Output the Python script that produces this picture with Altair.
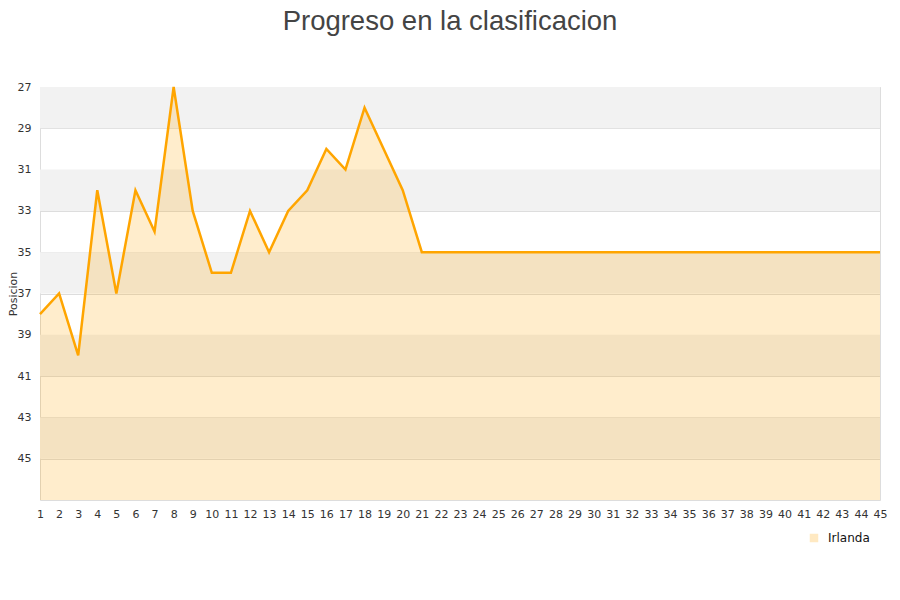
import altair as alt
import pandas as pd

jornadas = list(range(1, 46))
posiciones = [38, 37, 40, 32, 37, 32, 34, 27, 33, 36, 36, 33, 35, 33, 32, 30, 31, 28, 30, 32, 35] + [35] * 24
equipo = "Irlanda"
band_start = [27, 31, 35, 39, 43]
band_end = [29, 33, 37, 41, 45]
y_ticks = [27, 29, 31, 33, 35, 37, 39, 41, 43, 45]

df = pd.DataFrame({"jornada": jornadas, "posicion": posiciones, "equipo": [equipo] * len(jornadas)})
bands = pd.DataFrame({"y0": band_start, "y1": band_end})

W, H = 840, 413
xscale = alt.Scale(domain=[1, 45], nice=False, zero=False)
yscale = alt.Scale(domain=[27, 47], reverse=True, nice=False, zero=False)

xaxis = alt.Axis(values=jornadas, title=None, grid=False, ticks=False, domain=False,
                 labelPadding=8, labelFontSize=11, labelColor="#333", labelFont="DejaVu Sans",
                 labelFlush=False, labelOverlap=False)
yaxis = alt.Axis(values=y_ticks, title="Posicion", grid=True, gridColor="#dddddd",
                 ticks=False, domain=False, labelPadding=9, labelFontSize=11,
                 labelColor="#333", labelFont="DejaVu Sans", titleFont="DejaVu Sans",
                 titleFontSize=11, titleFontWeight="normal", titleColor="#333",
                 titleX=-22, titleY=H / 2, titleAngle=270, titleBaseline="bottom",
                 titleAlign="center", labelFlush=False, labelOverlap=False)

band_layer = alt.Chart(bands).mark_rect(color="#f2f2f2").encode(
    x=alt.value(0), x2=alt.value(W),
    y=alt.Y("y0:Q", scale=yscale, axis=yaxis), y2="y1:Q",
)

area = alt.Chart(df).mark_area(opacity=0.2, interpolate="linear", color="#ffa500").encode(
    x=alt.X("jornada:Q", scale=xscale, axis=xaxis),
    y=alt.Y("posicion:Q", scale=yscale, axis=yaxis),
    y2=alt.datum(47),
)

line = alt.Chart(df).mark_line(color="#ffa500", strokeWidth=2.5).encode(
    x=alt.X("jornada:Q", scale=xscale, axis=xaxis),
    y=alt.Y("posicion:Q", scale=yscale, axis=yaxis),
)

legend_layer = alt.Chart(df.head(1)).mark_point(
    size=0, filled=False, fill="#ffe9c2", stroke="#a08c6a", strokeWidth=1, opacity=1
).encode(
    x=alt.X("jornada:Q", scale=xscale, axis=xaxis),
    y=alt.Y("posicion:Q", scale=yscale, axis=yaxis),
    shape=alt.Shape("equipo:N", scale=alt.Scale(range=["square"]),
                    legend=alt.Legend(title=None, orient="none", legendX=768, legendY=445,
                                      symbolSize=72, symbolFillColor="#ffe9c2",
                                      symbolStrokeColor="#a08c6a", symbolStrokeWidth=1,
                                      symbolOpacity=1, labelOffset=8,
                                      labelFont="DejaVu Sans", labelFontSize=12, labelColor="#111")),
)

chart = alt.layer(band_layer, area, line, legend_layer).properties(
    width=W, height=H,
    title=alt.TitleParams("Progreso en la clasificacion", font="Liberation Sans", fontSize=27.5,
                          fontWeight="normal", color="#444", anchor="middle", dx=-10, offset=46),
    autosize=alt.AutoSizeParams(type="none"),
    padding={"left": 32, "top": 79, "right": 12, "bottom": 85},
).configure_view(stroke="#dddddd", strokeWidth=1).configure_axis(labelOverlap=False)

chart.save("out.html", embed_options={"renderer": "svg", "actions": False})
